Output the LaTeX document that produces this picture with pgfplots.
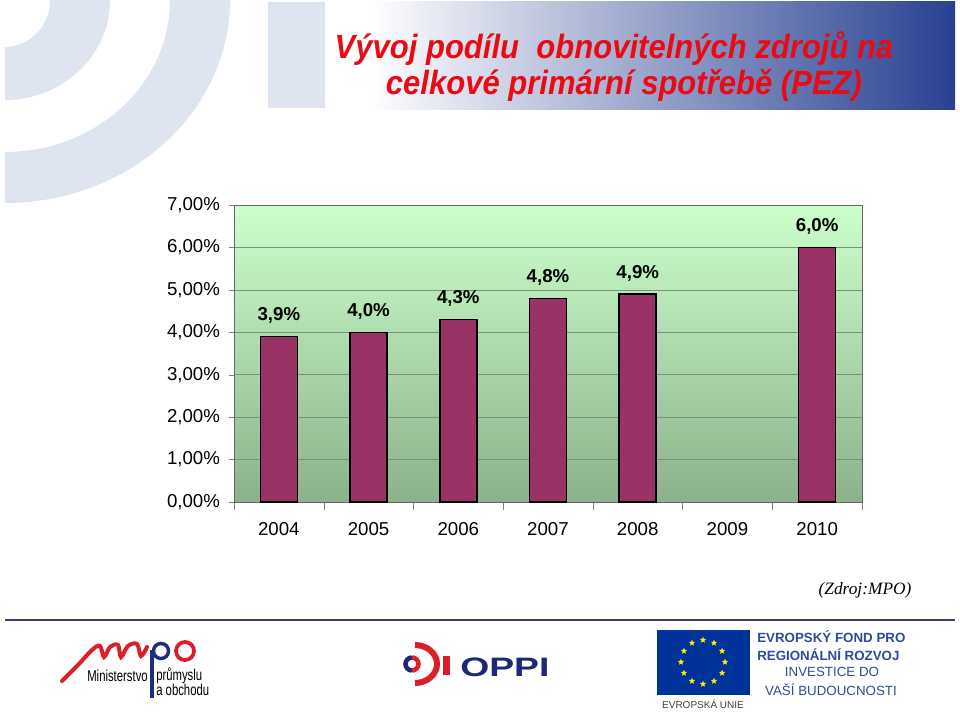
\documentclass[border=0pt]{standalone}
\usepackage{pgfplots}
\pgfplotsset{compat=1.18}
\usepackage{fontspec}
\setmainfont{Liberation Sans}
\newfontfamily\serifit{Liberation Serif}
\usetikzlibrary{shapes.geometric,calc}
\definecolor{pale}{RGB}{222,228,240}
\definecolor{bandblue}{RGB}{40,64,145}
\definecolor{titlered}{RGB}{235,10,20}
\definecolor{barcol}{RGB}{153,51,102}
\definecolor{bgtop}{RGB}{204,255,204}
\definecolor{bgbot}{RGB}{140,178,140}
\definecolor{gridcol}{RGB}{120,145,120}
\definecolor{linecol}{RGB}{55,58,140}
\definecolor{eublue}{RGB}{0,51,153}
\definecolor{eutext}{RGB}{45,75,155}
\definecolor{oppiblue}{RGB}{30,40,120}
\definecolor{mpored}{RGB}{220,30,40}
\definecolor{mpoblue}{RGB}{30,45,130}
\begin{document}
\begin{tikzpicture}
\path[use as bounding box] (0,0) rectangle (720pt,533.25pt);
\begin{scope}[shift={(0,533.25pt)}, x=0.75pt, y=-0.75pt]
  % left decorative arcs
  \fill[pale] (50,0) arc[start angle=0,end angle=90,x radius=45,y radius=47] -- (5,100)
     arc[start angle=90,end angle=0,x radius=105,y radius=100] -- cycle;
  \fill[pale] (170,0) arc[start angle=0,end angle=90,x radius=165,y radius=152] -- (5,203)
     arc[start angle=90,end angle=0,x radius=225,y radius=203] -- cycle;
  % band
  \fill[pale] (268,2) rectangle (325,108);
  \shade[left color=white, right color=bandblue] (370,2) rectangle (955,110);
  % title
  \node[anchor=base, text=titlered, inner sep=0] at (614,59)
    {\scalebox{0.97}[1.05]{\fontsize{24}{24}\selectfont\bfseries\itshape Vývoj podílu~ obnovitelných zdrojů na}};
  \node[anchor=base, text=titlered, inner sep=0] at (624,95)
    {\scalebox{0.97}[1.05]{\fontsize{24}{24}\selectfont\bfseries\itshape celkové primární spotřebě (PEZ)}};
  % source
  \node[anchor=center, inner sep=0] at (865,590) {\fontsize{13}{13}\selectfont\serifit\itshape (Zdroj:MPO)};
  % separator line
  \draw[linecol, line width=2.2pt] (5,620) -- (955,620);
  % MPO logo
  \draw[mpored, line width=3pt, line cap=round] plot[smooth, tension=0.6] coordinates
    {(62,681) (78,665) (92,650) (100,646) (104,657) (110,647) (118,645) (121,657) (128,646) (137,644) (141,656) (147,647)};
  \draw[mpoblue, line width=2.6pt] (161,651) circle[radius=7.5];
  \draw[mpored, line width=2.8pt] (185,651) circle[radius=9];
  \draw[mpoblue, line width=2.4pt] (152,650) -- (152,698);
  \node[anchor=base east, inner sep=0] at (148,681) {\scalebox{0.72}[1]{\fontsize{11.8}{11.8}\selectfont Ministerstvo}};
  \node[anchor=base west, inner sep=0] at (156,680) {\scalebox{0.72}[1]{\fontsize{11.8}{11.8}\selectfont průmyslu}};
  \node[anchor=base west, inner sep=0] at (156,695) {\scalebox{0.72}[1]{\fontsize{11.8}{11.8}\selectfont a obchodu}};
  % OPPI logo
  \draw[mpored, line width=4.5pt] (415,645) arc[start angle=-90,end angle=90,x radius=22,y radius=19];
  \draw[oppiblue, line width=3.4pt] (412,657.5) arc[start angle=-90,end angle=-270,x radius=6.5,y radius=6.5];
  \draw[mpored, line width=3.4pt] (412,657.5) arc[start angle=-90,end angle=90,x radius=6.5,y radius=6.5];
  \fill[mpored] (443,656) rectangle (450,675);
  \node[anchor=west, inner sep=0, text=oppiblue] at (460,667) {\scalebox{1.4}[1]{\fontsize{20}{20}\selectfont\bfseries OPPI}};
  % EU logo
  \fill[eublue] (657,630) rectangle (750,695);
  \foreach \a in {0,30,...,330}
    \node[star, star points=5, star point ratio=2.3, fill=yellow, inner sep=0, minimum size=5pt] at ($(703,662)+(\a:22)$) {};
  \node[inner sep=0, text=black!75] at (703,704) {\fontsize{7.5}{7.5}\selectfont EVROPSKÁ UNIE};
  \node[anchor=west, inner sep=0, text=eutext] at (757,637) {\fontsize{10}{10}\selectfont\bfseries EVROPSKÝ FOND PRO};
  \node[anchor=west, inner sep=0, text=eutext] at (757,655) {\fontsize{10}{10}\selectfont\bfseries REGIONÁLNÍ ROZVOJ};
  \node[inner sep=0, text=eutext] at (832,672) {\fontsize{10}{10}\selectfont INVESTICE DO};
  \node[inner sep=0, text=eutext] at (831,690) {\fontsize{10}{10}\selectfont VAŠÍ BUDOUCNOSTI};
\end{scope}
\begin{axis}[
  at={(175.5pt,156.75pt)}, anchor=south west,
  scale only axis, width=471pt, height=222.75pt,
  xmin=-0.5, xmax=6.5, ymin=0, ymax=7,
  xtick={0,...,6}, xticklabels={2004,2005,2006,2007,2008,2009,2010},
  minor xtick={-0.5,0.5,...,6.5},
  xtick pos=lower, ytick pos=left,
  ytick={0,...,7},
  yticklabels={{0,00\%},{1,00\%},{2,00\%},{3,00\%},{4,00\%},{5,00\%},{6,00\%},{7,00\%}},
  tick align=outside,
  major tick length=4pt, minor tick length=6pt,
  major x tick style={draw=none},
  tick style={gray},
  ymajorgrids, grid style={gridcol, line width=0.5pt},
  axis line style={gray!80!black},
  axis background/.style={shade, top color=bgtop, bottom color=bgbot},
  tick label style={font=\fontsize{14}{14}\selectfont},
  xticklabel style={yshift=-8pt},
  yticklabel style={xshift=-3pt},
  ybar, bar width=27.75pt,
  nodes near coords, point meta=explicit symbolic,
  every node near coord/.append style={font=\fontsize{14}{14}\selectfont\bfseries, yshift=6pt},
]
\addplot[fill=barcol, draw=black, line width=1.1pt] coordinates {
  (0,3.9) [3,9\%]
  (1,4.0) [4,0\%]
  (2,4.3) [4,3\%]
  (3,4.8) [4,8\%]
  (4,4.9) [4,9\%]
  (6,6.0) [6,0\%]
};
\end{axis}
\end{tikzpicture}
\end{document}
